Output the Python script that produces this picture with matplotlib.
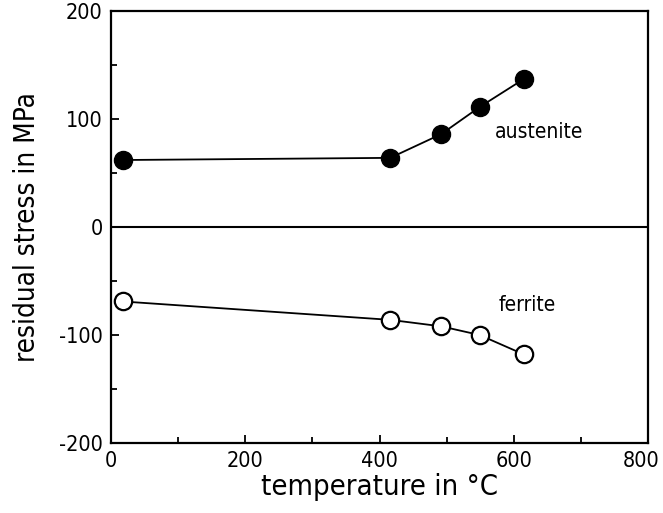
import matplotlib
matplotlib.use("Agg")
import matplotlib.pyplot as plt
import matplotlib.transforms as mtrans
from matplotlib.ticker import MultipleLocator

plt.rcParams["font.family"] = ["DejaVu Sans"]
plt.rcParams["font.stretch"] = "condensed"
plt.rcParams["axes.unicode_minus"] = False

# values
aus_T = [18, 416, 492, 549, 615]
aus_s = [62, 64, 86, 111, 137]
fer_T = [18, 416, 492, 549, 615]
fer_s = [-69, -86, -92, -100, -118]

fig = plt.figure(figsize=(6.63, 5.13), dpi=100)
ax = fig.add_axes([0.1674, 0.1365, 0.81, 0.8421])

ax.axhline(0, color="black", lw=1.5, zorder=1)
ax.plot(aus_T, aus_s, "o-", color="black", lw=1.3, ms=13, mfc="black", mec="black", zorder=3)
ax.plot(fer_T, fer_s, "o-", color="black", lw=1.3, ms=12.5, mfc="white", mec="black", mew=1.6, zorder=3)

ax.text(572, 88, "austenite", fontsize=15, va="center")
ax.text(577, -72, "ferrite", fontsize=15, va="center")

ax.set_xlim(0, 800)
ax.set_ylim(-200, 200)
ax.set_xticks([0, 200, 400, 600, 800])
ax.set_yticks([-200, -100, 0, 100, 200])
ax.xaxis.set_minor_locator(MultipleLocator(100))
ax.yaxis.set_minor_locator(MultipleLocator(50))
ax.tick_params(which="both", direction="in", width=1.3, labelsize=15.5, pad=6)
ax.tick_params(which="major", length=6)
ax.tick_params(which="minor", length=4)
for sp in ax.spines.values():
    sp.set_linewidth(1.6)

# last x label sits a bit left of its tick so it fits the canvas
lab = ax.xaxis.get_major_ticks()[-1].label1
lab.set_transform(lab.get_transform() + mtrans.ScaledTranslation(-0.07, 0, fig.dpi_scale_trans))

ax.set_xlabel("temperature in °C", fontsize=21, labelpad=1)
ax.set_ylabel("residual stress in MPa", fontsize=20, labelpad=13)

fig.savefig("out.png", dpi=100)
